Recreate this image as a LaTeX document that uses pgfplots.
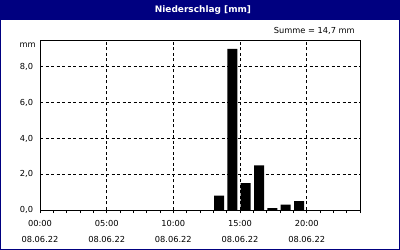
\documentclass[border=0pt]{standalone}
\usepackage{fontspec}
\setmainfont{DejaVu Sans}
\usepackage{pgfplots}
\pgfplotsset{compat=1.18}
\definecolor{navy}{RGB}{0,0,128}
\begin{document}
\fontsize{8.3}{9.8}\selectfont
\begin{tikzpicture}[x=1bp,y=1bp]
\useasboundingbox (0,0) rectangle (400,250);
\fill[white] (0,0) rectangle (400,250);
\fill[navy] (0,229.5) rectangle (400,250);
\draw[navy, line width=1.5bp] (0.75,0.75) rectangle (399.25,249.25);
\node[white, font=\fontsize{9}{10}\selectfont\bfseries] at (203,240) {Niederschlag [mm]};
\node[anchor=east, inner sep=0pt] at (355,219) {Summe = 14,7 mm};
\node[anchor=east, inner sep=0pt] at (36,205) {mm};
\begin{axis}[
  at={(40bp,40bp)}, anchor=south west,
  width=320bp, height=170bp, scale only axis,
  xmin=0, xmax=24, ymin=0, ymax=9.5,
  xtick={0,5,10,15,20},
  minor xtick={0,1,...,24},
  xticklabels={{00:00\\08.06.22},{05:00\\08.06.22},{10:00\\08.06.22},{15:00\\08.06.22},{20:00\\08.06.22}},
  xticklabel style={align=center, font=\fontsize{8.3}{16}\selectfont, yshift=-4.5bp},
  ytick={0,2,4,6,8},
  yticklabel style={xshift=-1bp},
  /pgf/number format/.cd, fixed, fixed zerofill, precision=1, use comma, assume math mode=true,
  /pgfplots/.cd,
  xtick pos=bottom, ytick pos=left,
  tick align=outside,
  major tick length=3bp, minor tick length=3bp,
  xtick style={black, line width=0.8bp},
  ytick style={draw=none},
  xmajorgrids, ymajorgrids,
  major grid style={black, line width=0.8bp, dash pattern=on 3bp off 2.5bp},
  axis line style={black, line width=1bp},
  ybar, bar width=0.75,
]
\addplot[fill=black, draw=none] coordinates {(13.43,0.8) (14.43,9.0) (15.43,1.5) (16.43,2.5) (17.43,0.1) (18.43,0.3) (19.43,0.5)};
\end{axis}
\end{tikzpicture}
\end{document}
